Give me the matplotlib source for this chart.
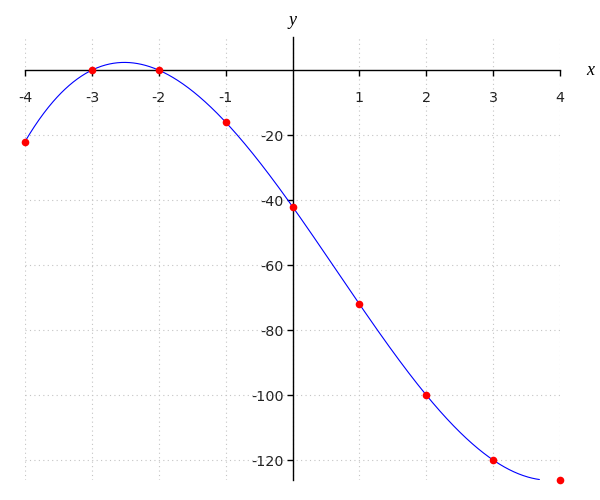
import numpy as np
import matplotlib
matplotlib.use("Agg")
import matplotlib.pyplot as plt

# sample points
xs = [-4, -3, -2, -1, 0, 1, 2, 3, 4]
ys = [-22, 0, 0, -16, -42, -72, -100, -120, -126]
xticks = [-4, -3, -2, -1, 1, 2, 3, 4]
yticks = [-120, -100, -80, -60, -40, -20]

ymin, ymax = -126, 10.2

# smooth curve through the points (cubic fit of the data)
coef = np.polyfit(xs, ys, 3)
xc = np.linspace(-4, 4, 800)
yc = np.polyval(coef, xc)
yc[yc < ymin] = np.nan

fig = plt.figure(figsize=(6, 5), dpi=100)
ax = fig.add_axes([25 / 600, 1 - 479.5 / 500, 535 / 600, 442.5 / 500])

ax.plot(xc, yc, color="blue", lw=0.8, zorder=3)
ax.plot(xs, ys, "o", color="red", ms=5.5, mec="none", zorder=4, clip_on=False)

ax.set_xlim(-4, 4)
ax.set_ylim(ymin, ymax)

# dotted grid
for gx in xticks + [0]:
    ax.axvline(gx, color="#c4c4c4", ls=(0, (1, 3)), lw=0.8, zorder=1)
for gy in yticks:
    ax.axhline(gy, color="#c4c4c4", ls=(0, (1, 3)), lw=0.8, zorder=1)

# axes through the origin
for s in ["top", "right"]:
    ax.spines[s].set_visible(False)
ax.spines["left"].set_position(("data", 0))
ax.spines["bottom"].set_position(("data", 0))
ax.spines["left"].set_linewidth(1.0)
ax.spines["bottom"].set_linewidth(1.0)
ax.spines["left"].set_zorder(2)
ax.spines["bottom"].set_zorder(2)

ax.set_xticks(xticks)
ax.set_xticklabels([str(t) for t in xticks])
ax.set_yticks(yticks)
ax.set_yticklabels([str(t) for t in yticks])
ax.tick_params(axis="x", direction="out", length=4.5, width=1, pad=10.5,
               labelsize=10.3, labelcolor="#222222")
ax.tick_params(axis="y", direction="out", length=4.5, width=1, pad=2,
               labelsize=10.3, labelcolor="#222222")

ax.text(4.39, 0, "x", fontsize=13, family="Liberation Serif", style="italic",
        ha="left", va="center")
ax.text(0, 12.8, "y", fontsize=13, family="Liberation Serif", style="italic",
        ha="center", va="bottom", clip_on=False)

fig.savefig("out.png", dpi=100)
